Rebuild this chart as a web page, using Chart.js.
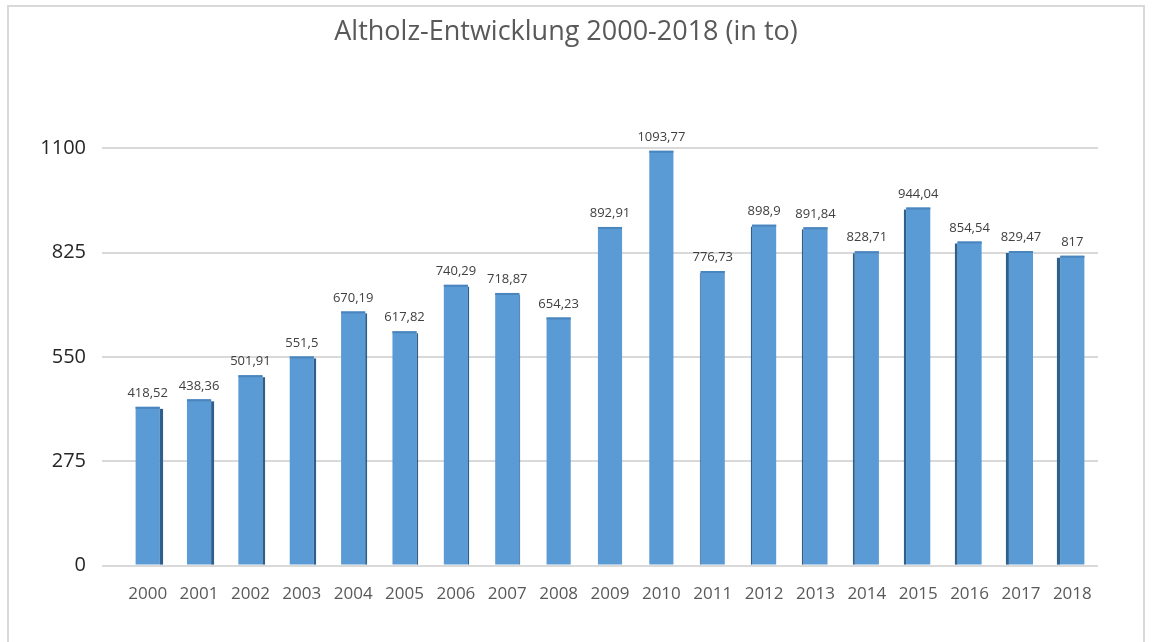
<!DOCTYPE html>
<html>
<head>
<meta charset="utf-8">
<script src="https://cdn.jsdelivr.net/npm/chart.js@4"></script>
<style>
  html, body { margin: 0; padding: 0; background: #fff; }
  #wrap { position: relative; width: 1152px; height: 642px; }
  #frame {
    position: absolute; left: 7px; top: 5px; width: 1138px; height: 660px;
    border: 2px solid #d9d9d9; box-sizing: border-box;
  }
  canvas { position: absolute; left: 0; top: 0; }
</style>
</head>
<body>
<div id="wrap">
  <div id="frame"></div>
  <canvas id="chart" width="1152" height="642"></canvas>
</div>
<script>
  const years = ['2000', '2001', '2002', '2003', '2004', '2005', '2006', '2007', '2008', '2009',
                 '2010', '2011', '2012', '2013', '2014', '2015', '2016', '2017', '2018'];
  const tonnes = [418.52, 438.36, 501.91, 551.5, 670.19, 617.82, 740.29, 718.87, 654.23, 892.91,
                  1093.77, 776.73, 898.9, 891.84, 828.71, 944.04, 854.54, 829.47, 817];
  const yTicks = [0, 275, 550, 825, 1100];

  const FONT = '"Open Sans", Calibri, sans-serif';

  // German decimal comma for the value labels
  const fmt = v => String(v).replace('.', ',');

  // dark side face + value label above each column
  const columnDecor = {
    id: 'columnDecor',
    afterDatasetsDraw(chart) {
      const ctx = chart.ctx;
      const meta = chart.getDatasetMeta(0);
      const mid = (chart.chartArea.left + chart.chartArea.right) / 2;
      const half = (chart.chartArea.right - chart.chartArea.left) / 2;
      ctx.save();
      meta.data.forEach((bar, i) => {
        const w = bar.width;
        const left = bar.x - w / 2, right = bar.x + w / 2;
        const off = (bar.x - mid) / half; // -1 .. 1
        const side = Math.abs(off) * 3.5;
        if (side > 0.6) {
          ctx.fillStyle = '#2f5f8c';
          if (off < 0) ctx.fillRect(right, bar.y + 2, side, bar.base - bar.y - 2);
          else ctx.fillRect(left - side, bar.y + 2, side, bar.base - bar.y - 2);
        }
        // slightly darker top rim
        ctx.fillStyle = '#4a85bd';
        ctx.fillRect(left, bar.y, w, 2);

        ctx.fillStyle = '#404040';
        ctx.font = '13px ' + FONT;
        ctx.textAlign = 'center';
        ctx.textBaseline = 'bottom';
        ctx.fillText(fmt(tonnes[i]), bar.x, bar.y - 7);
      });
      ctx.restore();
    }
  };

  new Chart(document.getElementById('chart'), {
    type: 'bar',
    data: {
      labels: years,
      datasets: [{
        data: tonnes,
        backgroundColor: '#5b9bd5',
        borderWidth: 0,
        barPercentage: 0.94,
        categoryPercentage: 0.5
      }]
    },
    options: {
      responsive: false,
      animation: false,
      layout: { padding: { left: 34, right: 54, top: 0, bottom: 28 } },
      plugins: {
        legend: { display: false },
        tooltip: { enabled: false },
        title: {
          display: true,
          text: 'Altholz-Entwicklung 2000-2018 (in to)',
          color: '#595959',
          font: { family: FONT, size: 27, weight: 'normal' },
          padding: { top: 16, bottom: 100 }
        }
      },
      scales: {
        x: {
          grid: { display: false },
          border: { display: false },
          ticks: {
            color: '#595959',
            font: { family: FONT, size: 17 },
            padding: 10
          }
        },
        y: {
          min: 0,
          max: 1100,
          afterBuildTicks(axis) { axis.ticks = yTicks.map(v => ({ value: v })); },
          afterFit(axis) { axis.width = 88; },
          grid: { color: '#d9d9d9', lineWidth: 2, drawTicks: true, tickLength: 20 },
          border: { display: false },
          ticks: {
            color: '#262626',
            font: { family: FONT, size: 20 },
            padding: 16,
            callback: v => String(v)
          }
        }
      }
    },
    plugins: [columnDecor]
  });
</script>
</body>
</html>
